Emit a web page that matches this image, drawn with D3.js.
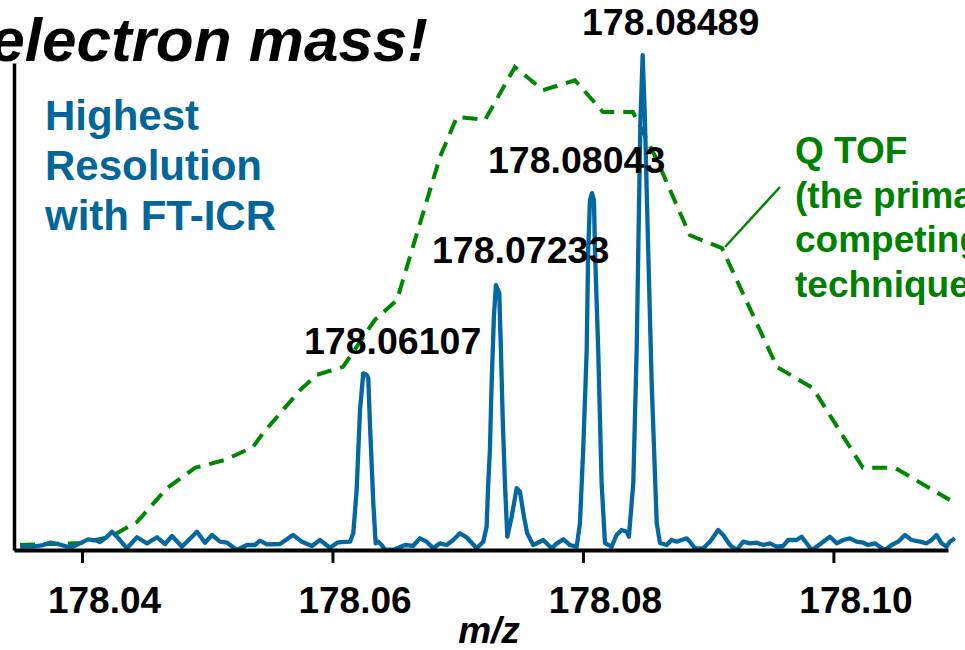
<!DOCTYPE html>
<html>
<head>
<meta charset="utf-8">
<script src="https://cdn.jsdelivr.net/npm/d3@7"></script>
<style>
  html, body { margin: 0; padding: 0; background: #fff; }
  svg { display: block; }
  text { font-family: "Liberation Sans", Arial, sans-serif; font-weight: bold; }
</style>
</head>
<body>
<svg id="chart" width="965" height="650"></svg>
<script>
// ---- data (m/z, relative intensity) ----
const ftMz = [178.03505,178.03609,178.03689,178.03745,178.03808,178.0388,178.03928,178.03984,178.04048,178.0412,
  178.04144,178.042,178.0424,178.04279,178.04359,178.04439,178.04519,178.04599,178.04663,178.04719,
  178.04798,178.04918,178.04982,178.05038,178.05102,178.05158,178.05238,178.05317,178.05381,178.05421,
  178.05477,178.05581,178.05685,178.05756,178.05836,178.059,178.0598,178.06044,178.0614,178.06166,
  178.06193,178.0622,178.06246,178.06273,178.06286,178.06299,178.06326,178.06345,178.06366,178.06393,
  178.06419,178.06499,178.06579,178.06643,178.06699,178.06752,178.06805,178.06858,178.06912,178.06964,
  178.07018,178.07071,178.07151,178.07204,178.07231,178.07244,178.07257,178.07271,178.07289,178.07305,
  178.07332,178.07345,178.07359,178.07377,178.07396,178.07431,178.07471,178.07497,178.07529,178.07555,
  178.07603,178.07683,178.0775,178.07792,178.07843,178.07896,178.0795,178.07976,178.08002,178.0803,
  178.08042,178.08056,178.08072,178.08088,178.08096,178.08122,178.08149,178.08176,178.08229,178.08269,
  178.08309,178.08349,178.08367,178.08402,178.08429,178.08442,178.08459,178.08477,178.08495,178.08511,
  178.08521,178.08549,178.08589,178.08615,178.08668,178.08708,178.08748,178.08788,178.08828,178.08854,
  178.08894,178.0896,178.09014,178.0908,178.0912,178.09174,178.09227,178.0928,178.09333,178.09387,
  178.0944,178.09493,178.09547,178.09599,178.09639,178.09706,178.09746,178.09786,178.09826,178.09866,
  178.09919,178.09972,178.10026,178.10078,178.10132,178.10185,178.10238,178.10278,178.10331,178.10371,
  178.10411,178.10465,178.10517,178.10571,178.10624,178.10691,178.10744,178.10784,178.10824,178.10864,
  178.10904,178.1093,178.1097];
const ftIntensity = [0.67,0.67,1.0,1.47,1.21,0.67,0.67,1.35,2.16,1.88,
  1.62,2.69,3.7,2.69,0.34,2.57,1.35,2.57,1.21,2.83,
  0.67,3.7,1.47,3.03,1.68,1.47,0,1.01,1.01,1.88,
  1.15,1.21,3.03,1.68,0.81,2.02,0.46,1.56,1.68,3.37,
  12.1,28.3,35.7,35.4,34.7,25.7,9.5,1.35,1.68,1.01,
  0,0.14,1.01,0.81,2.36,1.68,0.34,1.35,1.01,2.02,
  3.37,2.57,0.34,1.68,4.71,13.5,20.2,33.7,47.1,53.5,
  51.9,40.4,26.9,13.5,2.69,6.73,12.5,11.8,6.73,3.37,
  1.01,2.02,0.34,1.35,2.16,1.01,0.67,5.39,20.2,40.4,
  60.6,70.7,72.1,70.7,60.6,40.4,13.5,1.41,0.67,3.03,
  4.04,3.7,2.69,13.5,40.4,60.6,86.9,100,86.9,70.7,
  60.6,33.7,5.45,1.41,1.01,2.02,1.68,2.02,2.36,1.68,
  0.34,0.34,1.68,4.04,3.03,1.01,0,1.68,1.35,1.47,
  1.01,1.35,0.67,0.81,2.02,2.02,2.69,1.35,0,0.67,
  1.68,2.69,1.35,2.02,2.36,1.68,1.47,1.01,1.35,0.67,
  0,1.01,1.68,3.03,2.02,1.68,1.35,2.02,3.03,1.35,
  0.67,1.68,2.36];

const qtofMz = [178.03505,178.03984,178.04224,178.04439,178.04679,178.04902,178.05142,178.05365,178.05445,178.05741,
  178.05876,178.06084,178.06339,178.06515,178.06675,178.06858,178.06994,178.07218,178.07457,178.07681,
  178.07936,178.0816,178.08399,178.08591,178.08854,178.0911,178.09549,178.09836,178.10236,178.10491,178.1093];
const qtofIntensity = [1.01,1.41,2.63,5.66,12.5,16.6,18.2,20.8,23.6,32.3,
  35.4,37.0,46.5,50.5,64.0,79.4,87.5,86.9,97.6,92.9,
  94.9,88.5,88.5,78.8,63.6,61.0,37.0,32.7,16.6,16.6,10.1];

const tickValues = [178.04, 178.06, 178.08, 178.10];
const peakLabels = ["178.06107", "178.07233", "178.08043", "178.08489"];
const xDomain = [178.03457, 178.10915];
const yDomain = [0, 98.4];

// ---- layout ----
const svg = d3.select("#chart");
const x = d3.scaleLinear().domain(xDomain).range([14, 948]);
const y = d3.scaleLinear().domain(yDomain).range([550, 63]);

const blue = "#04679f";
const blueText = "#036699";
const green = "#008600";
const greenText = "#008000";

// title fragment
svg.append("text")
  .attr("x", 428).attr("y", 61)
  .attr("text-anchor", "end")
  .style("font-size", "62px").style("font-style", "italic")
  .attr("fill", "#000")
  .text("electron mass!");

// Q TOF dashed curve
const qtof = qtofMz.map((m, i) => [m, qtofIntensity[i]]);
svg.append("path")
  .datum(qtof)
  .attr("fill", "none")
  .attr("stroke", green)
  .attr("stroke-width", 4)
  .attr("stroke-dasharray", "15,9")
  .attr("d", d3.line().x(d => x(d[0])).y(d => y(d[1])));

// FT-ICR spectrum
const ft = ftMz.map((m, i) => [m, ftIntensity[i]]);
svg.append("path")
  .datum(ft)
  .attr("fill", "none")
  .attr("stroke", blue)
  .attr("stroke-width", 4.3)
  .attr("stroke-linejoin", "round")
  .attr("d", d3.line().x(d => x(d[0])).y(d => y(d[1])));

// axes
const gx = svg.append("g").attr("transform", "translate(0,550)")
  .call(d3.axisBottom(x).tickValues(tickValues).tickSize(13).tickSizeOuter(0).tickFormat(d3.format(".2f")));
gx.select(".domain").attr("stroke", "#000").attr("stroke-width", 4);
gx.selectAll(".tick line").attr("stroke", "#000").attr("stroke-width", 3);
gx.selectAll(".tick text")
  .attr("y", 63).attr("dy", null).attr("dx", 22)
  .attr("fill", "#000")
  .style("font-size", "37px")
  .style("font-family", "'Liberation Sans', Arial, sans-serif")
  .style("font-weight", "bold");

const gy = svg.append("g").attr("transform", "translate(14,0)")
  .call(d3.axisLeft(y).tickValues([]).tickSizeOuter(0));
gy.select(".domain").attr("stroke", "#000").attr("stroke-width", 3.5);

// axis title
svg.append("text")
  .attr("x", 489).attr("y", 643)
  .attr("text-anchor", "middle")
  .style("font-size", "37px").style("font-style", "italic")
  .attr("fill", "#000")
  .text("m/z");

// peak labels
const peakLabelPos = [[304, 354], [432, 263], [488, 173], [582, 35]];
svg.selectAll(".peaklabel")
  .data(peakLabels)
  .enter().append("text")
  .attr("class", "peaklabel")
  .attr("x", (d, i) => peakLabelPos[i][0])
  .attr("y", (d, i) => peakLabelPos[i][1])
  .style("font-size", "37.5px")
  .attr("fill", "#000")
  .text(d => d);

// FT-ICR legend text
const ftLines = ["Highest", "Resolution", "with FT-ICR"];
svg.selectAll(".ftlab")
  .data(ftLines)
  .enter().append("text")
  .attr("class", "ftlab")
  .attr("x", 45)
  .attr("y", (d, i) => 130 + i * 50)
  .style("font-size", "42px")
  .attr("fill", blueText)
  .text(d => d);

// Q TOF legend text
const qLines = ["Q TOF", "(the primary", "competing", "technique)"];
svg.selectAll(".qlab")
  .data(qLines)
  .enter().append("text")
  .attr("class", "qlab")
  .attr("x", 795)
  .attr("y", (d, i) => 163 + i * 44.5)
  .style("font-size", "37px")
  .attr("fill", greenText)
  .text(d => d);

// leader line
svg.append("line")
  .attr("x1", 725).attr("y1", 247)
  .attr("x2", 780).attr("y2", 187)
  .attr("stroke", green).attr("stroke-width", 2.5);
</script>
</body>
</html>
